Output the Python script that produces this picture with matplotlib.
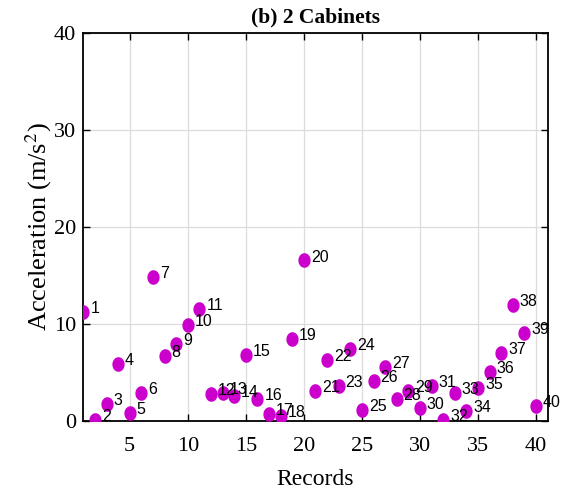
import matplotlib
matplotlib.use('Agg')
import matplotlib.pyplot as plt
from matplotlib.path import Path
import numpy as np

# ------------------------- Data ---------------------------
records = np.arange(1, 41)
accel = [11.27, 0.07, 1.73, 5.86, 0.76, 2.83, 14.83, 6.69, 7.90, 9.90,
         11.52, 2.76, 2.83, 2.55, 6.76, 2.24, 0.66, 0.49, 8.42, 16.55,
         3.10, 6.28, 3.59, 7.45, 1.10, 4.14, 5.59, 2.24, 3.07, 1.28,
         3.59, 0.07, 2.83, 1.03, 3.41, 5.04, 6.97, 11.97, 9.07, 1.55]
labels = [str(r) for r in records]
title = '(b) 2 Cabinets'
# ----------------------------------------------------------

plt.rcParams['font.family'] = 'Liberation Serif'
plt.rcParams['mathtext.fontset'] = 'stix'

# slightly tall ellipse marker
t = np.linspace(0, 2 * np.pi, 60)
ell = Path(np.column_stack([0.84 * np.cos(t), np.sin(t)]), closed=True)

fig = plt.figure(figsize=(5.64, 4.97), dpi=100)
ax = fig.add_axes([0.1477, 0.1535, 0.8233, 0.7795])

ax.grid(True, color='#dcdcdc', linewidth=0.9)
ax.set_axisbelow(True)
ax.plot(records, accel, linestyle='none', marker=ell, color='#cc00cc',
        markersize=10.5, markeredgewidth=0, zorder=3)
for xi, yi, lab in zip(records, accel, labels):
    ax.text(xi + 0.6, yi + 0.35, lab, fontsize=11.5, family='Liberation Sans',
            va='center', ha='left', zorder=4)

ax.set_xlim(1, 41)
ax.set_ylim(0, 40)
ax.set_xticks([5, 10, 15, 20, 25, 30, 35, 40])
ax.set_yticks([0, 10, 20, 30, 40])
ax.tick_params(direction='in', length=5, width=1, top=True, right=True, labelsize=16)
ax.tick_params(axis='x', pad=12)
ax.tick_params(axis='y', pad=5)
for s in ax.spines.values():
    s.set_linewidth(1.3)
ax.set_xlabel('Records', fontsize=17, labelpad=9)
ax.set_ylabel('Acceleration (m/s$^2$)', fontsize=19, labelpad=0)
ax.set_title(title, fontsize=15.5, fontweight='bold', pad=8)

plt.savefig('out.png', dpi=100)
plt.close()
